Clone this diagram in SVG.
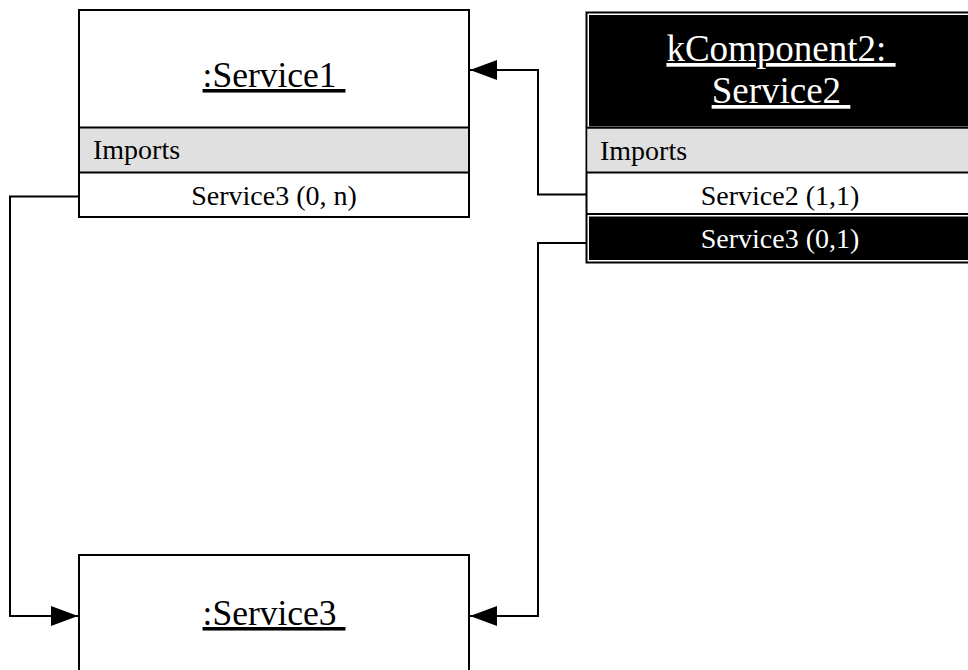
<svg xmlns="http://www.w3.org/2000/svg" width="968" height="670" viewBox="0 0 968 670">
  <style>
    .frame { fill: #fff; stroke: #000; stroke-width: 2; }
    .sep { stroke: #000; stroke-width: 2; }
    .band { fill: #e0e0e0; }
    .dark { fill: #000; }
    .title { font-family: "Liberation Serif", "Times New Roman", serif; font-size: 35.5px; text-anchor: middle; text-decoration: underline; white-space: pre; }
    .big { font-size: 37px; }
    .row { font-family: "Liberation Serif", "Times New Roman", serif; font-size: 28px; }
    .mid { text-anchor: middle; }
    .ink { fill: #000; }
    .paper { fill: #fff; }
    .wire { fill: none; stroke: #000; stroke-width: 2; }
  </style>
  <defs>
    <marker id="head" viewBox="0 0 27 20" refX="27" refY="10" markerWidth="27" markerHeight="20" markerUnits="userSpaceOnUse" orient="auto">
      <path d="M0,0 L27,10 L0,20 Z" fill="#000"/>
    </marker>
  </defs>

  <rect width="968" height="670" fill="#fff"/>

  <!-- connectors -->
  <g id="connectors">
    <polyline class="wire" points="586.5,194.5 538,194.5 538,70 470,70" marker-end="url(#head)"/>
    <polyline class="wire" points="586.5,243 538,243 538,616 470,616" marker-end="url(#head)"/>
    <polyline class="wire" points="79,196.5 10,196.5 10,616 78,616" marker-end="url(#head)"/>
  </g>

  <!-- :Service1 -->
  <g id="service1">
    <rect class="frame" x="79" y="10" width="390" height="207"/>
    <rect class="band" x="80" y="128" width="388" height="44"/>
    <line class="sep" x1="79" y1="127.5" x2="469" y2="127.5"/>
    <line class="sep" x1="79" y1="172.5" x2="469" y2="172.5"/>
    <text class="title ink" x="274" y="87">:Service1 </text>
    <text class="row ink" x="93" y="159">Imports</text>
    <text class="row ink mid" x="274" y="205">Service3 (0, n)</text>
  </g>

  <!-- kComponent2: Service2 -->
  <g id="service2">
    <rect class="frame" x="586.5" y="12.5" width="400" height="250"/>
    <rect class="dark" x="589" y="15" width="400" height="111.5"/>
    <rect class="band" x="587.5" y="128.5" width="400" height="43"/>
    <line class="sep" x1="586.5" y1="127.7" x2="968" y2="127.7"/>
    <line class="sep" x1="586.5" y1="172.5" x2="968" y2="172.5"/>
    <line class="sep" x1="586.5" y1="214" x2="968" y2="214"/>
    <rect class="dark" x="589" y="216.5" width="400" height="43.5"/>
    <text class="title big paper" x="781" y="61">kComponent2: </text>
    <text class="title big paper" x="781" y="103">Service2 </text>
    <text class="row ink" x="600" y="160">Imports</text>
    <text class="row ink mid" x="780" y="205">Service2 (1,1)</text>
    <text class="row paper mid" x="780" y="248">Service3 (0,1)</text>
  </g>

  <!-- :Service3 -->
  <g id="service3">
    <rect class="frame" x="79" y="555" width="390" height="130"/>
    <text class="title ink" x="274" y="625">:Service3 </text>
  </g>
</svg>
